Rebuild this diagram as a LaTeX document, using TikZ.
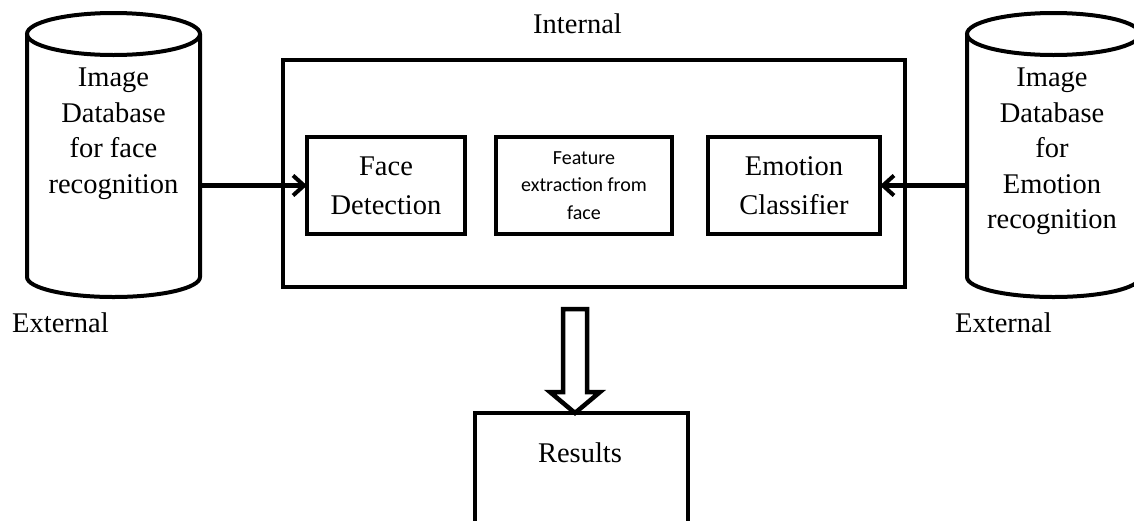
\documentclass[tikz,border=0pt]{standalone}
\usepackage{fontspec}
\setmainfont{Liberation Serif}
\newfontfamily\featurefont{Carlito}
\usetikzlibrary{arrows.meta}

\begin{document}
\begin{tikzpicture}[x=1pt,y=1pt,
  box/.style={draw, line width=4.5pt, inner sep=0pt, outer sep=0pt},
  boxtext/.style={font=\fontsize{28.5}{39}\selectfont, align=center},
  smalltext/.style={font=\featurefont\fontsize{20}{27.5}\selectfont, align=center},
  dblabel/.style={font=\fontsize{28.5}{35.5}\selectfont, align=center, inner sep=0pt, anchor=north},
  tag/.style={font=\fontsize{28.5}{34}\selectfont, inner sep=0pt, anchor=base west},
  dbbody/.style={inner sep=0pt, outer sep=0pt, minimum width=173pt, minimum height=243pt},
  cyl/.style={line width=4pt},
  conn/.style={line width=4.5pt, -{Straight Barb[length=11pt,width=20pt,line width=4pt]}},
  hollow/.style={draw, line width=4.5pt, fill=white, line join=miter}]
\useasboundingbox (0,0) rectangle (1134,-520);

% databases (cylinders)
\node[dbbody] (dbface) at (113.5,-155.5) {};
\draw[cyl] (dbface.north west) -- (dbface.south west)
  arc[start angle=180, end angle=360, x radius=86.5pt, y radius=20pt] -- (dbface.north east);
\draw[cyl] (dbface.north) ellipse[x radius=86.5pt, y radius=21pt];
\node[dblabel] (dbfacelabel) at (113.5,-68) {Image\\Database\\for face\\recognition};

\node[dbbody] (dbemo) at (1053.5,-155.5) {};
\draw[cyl] (dbemo.north west) -- (dbemo.south west)
  arc[start angle=180, end angle=360, x radius=86.5pt, y radius=20pt] -- (dbemo.north east);
\draw[cyl] (dbemo.north) ellipse[x radius=86.5pt, y radius=21pt];
\node[dblabel] (dbemolabel) at (1052,-68) {Image\\Database\\for\\Emotion\\recognition};

\node[tag] (extleft) at (12,-332) {External};
\node[tag] (extright) at (955,-332) {External};

% internal processing block
\node[box, minimum width=622pt, minimum height=227pt] (internal) at (594,-173.5) {};
\node[tag] (internallabel) at (533,-33) {Internal};

\node[box, boxtext, minimum width=158pt, minimum height=97pt] (face) at (386,-185.5) {Face\\Detection};
\node[box, smalltext, minimum width=176pt, minimum height=97pt] (feature) at (584,-185.5) {Feature\\extraction from\\face};
\node[box, boxtext, minimum width=172pt, minimum height=97pt] (emo) at (794,-185.5) {Emotion\\Classifier};

% inputs
\draw[conn] (dbface.east |- face.west) -- (face.west);
\draw[conn] (dbemo.west |- emo.east) -- (emo.east);

% output
\node[box, minimum width=213pt, minimum height=127pt] (results) at (581.5,-476.5) {};
\node[font=\fontsize{28.5}{34}\selectfont, inner sep=0pt, anchor=base] (resultslabel) at (580,-462) {Results};

\coordinate (tip) at (results.north -| 575,0);
\draw[hollow] (tip) -- ++(25,21) -- ++(-13,0) -- ++(0,83) -- ++(-24,0)
  -- ++(0,-83) -- ++(-13,0) -- cycle;
\end{tikzpicture}
\end{document}
